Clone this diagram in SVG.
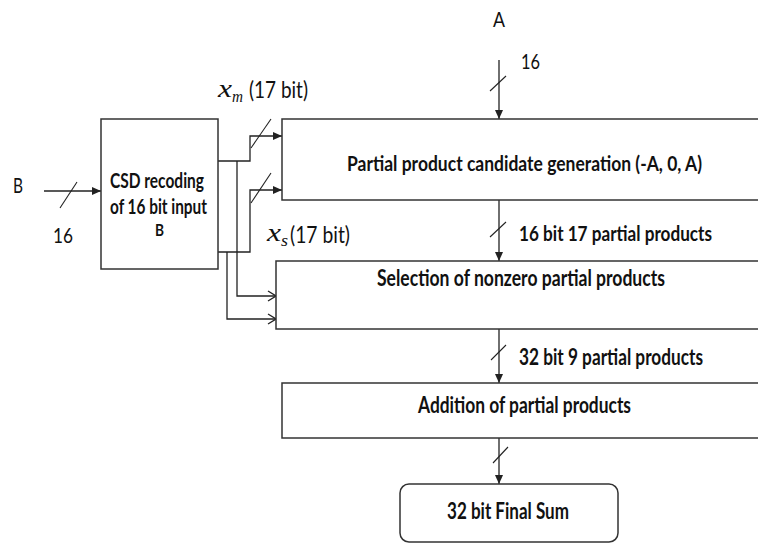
<svg xmlns="http://www.w3.org/2000/svg" width="758" height="544" viewBox="0 0 758 544">
<defs>
<style>
.box{fill:#fff;stroke:#333;stroke-width:1.5}
.ln{fill:none;stroke:#222;stroke-width:1.3}
.sl{fill:none;stroke:#222;stroke-width:1.1}
.t{font-family:Lato,"Liberation Sans",sans-serif;fill:#111;font-size:21px}
.b{font-weight:bold;font-size:22px}
.m{font-family:"Liberation Serif","DejaVu Serif",serif;font-style:italic;fill:#111}
</style>
<marker id="af" markerUnits="userSpaceOnUse" markerWidth="9" markerHeight="8" refX="9" refY="4" orient="auto">
<path d="M0,0 L9,4 L0,8 z" fill="#222"/>
</marker>
<marker id="ao" markerUnits="userSpaceOnUse" markerWidth="10" markerHeight="12" refX="9" refY="6" orient="auto">
<path d="M1,1 L9,6 L1,11" fill="none" stroke="#222" stroke-width="1.3"/>
</marker>
</defs>
<rect width="758" height="544" fill="#fff"/>

<g id="connectors">
<line class="ln" x1="44" y1="191" x2="101" y2="191" marker-end="url(#af)"/>
<line class="sl" x1="60" y1="208" x2="77" y2="182"/>
<line class="ln" x1="499" y1="60" x2="499" y2="119" marker-end="url(#af)"/>
<line class="sl" x1="490" y1="91" x2="506" y2="76"/>
<line class="ln" x1="499" y1="200" x2="499" y2="261" marker-end="url(#af)"/>
<line class="sl" x1="490" y1="237" x2="506" y2="222"/>
<line class="ln" x1="499" y1="329" x2="499" y2="383" marker-end="url(#af)"/>
<line class="sl" x1="491" y1="360" x2="506" y2="345"/>
<line class="ln" x1="499" y1="438" x2="499" y2="484" marker-end="url(#af)"/>
<line class="sl" x1="493" y1="463" x2="508" y2="447"/>
<polyline class="ln" points="218,161 250,161 250,136 282,136" marker-end="url(#af)"/>
<line class="sl" x1="251" y1="148" x2="271" y2="119"/>
<polyline class="ln" points="218,252 250,252 250,190 282,190" marker-end="url(#af)"/>
<line class="sl" x1="251" y1="203" x2="271" y2="173"/>
<polyline class="ln" points="237,161 237,296 276,296" marker-end="url(#ao)"/>
<polyline class="ln" points="227,252 227,319 276,319" marker-end="url(#ao)"/>
</g>

<g id="csd">
<rect class="box" x="101" y="119" width="117" height="150"/>
<text class="t b" x="110" y="188" style="font-size:21px" textLength="94" lengthAdjust="spacingAndGlyphs">CSD recoding</text>
<text class="t b" x="110" y="214" style="font-size:21px" textLength="97" lengthAdjust="spacingAndGlyphs">of 16 bit input</text>
<text class="t b" x="155" y="236" style="font-size:17px" textLength="9" lengthAdjust="spacingAndGlyphs">B</text>
</g>

<g id="candidate">
<rect class="box" x="282" y="119" width="492" height="81"/>
<text class="t b" x="347" y="171" style="font-size:20px" textLength="355" lengthAdjust="spacingAndGlyphs">Partial product candidate generation (-A, 0, A)</text>
</g>

<g id="selection">
<rect class="box" x="276" y="261" width="498" height="68"/>
<text class="t b" x="377" y="286" textLength="288" lengthAdjust="spacingAndGlyphs">Selection of nonzero partial products</text>
</g>

<g id="addition">
<rect class="box" x="282" y="383" width="492" height="55"/>
<text class="t b" x="418" y="413" textLength="213" lengthAdjust="spacingAndGlyphs">Addition of partial products</text>
</g>

<g id="finalsum">
<rect class="box" x="400" y="484" width="218" height="58" rx="9"/>
<text class="t b" x="447" y="519" style="font-size:23px" textLength="122" lengthAdjust="spacingAndGlyphs">32 bit Final Sum</text>
</g>

<g id="labels">
<text class="t" x="13" y="193" textLength="10" lengthAdjust="spacingAndGlyphs">B</text>
<text class="t" x="53" y="243" style="font-size:22px" textLength="20" lengthAdjust="spacingAndGlyphs">16</text>
<text class="t" x="493" y="27" textLength="12" lengthAdjust="spacingAndGlyphs">A</text>
<text class="t" x="521" y="69" style="font-size:22px" textLength="19" lengthAdjust="spacingAndGlyphs">16</text>
<text class="t b" x="519" y="241" style="font-size:21px" textLength="193" lengthAdjust="spacingAndGlyphs">16 bit 17 partial products</text>
<text class="t b" x="519" y="365" textLength="184" lengthAdjust="spacingAndGlyphs">32 bit 9 partial products</text>
<text class="m" x="218" y="97" font-size="26" textLength="14" lengthAdjust="spacingAndGlyphs">x</text>
<text class="m" x="232" y="102" font-size="17" textLength="11" lengthAdjust="spacingAndGlyphs">m</text>
<text class="t" x="249" y="98" style="font-size:23px" textLength="59" lengthAdjust="spacingAndGlyphs">(17 bit)</text>
<text class="m" x="267" y="241" font-size="26" textLength="14" lengthAdjust="spacingAndGlyphs">x</text>
<text class="m" x="281" y="246" font-size="17" textLength="7" lengthAdjust="spacingAndGlyphs">s</text>
<text class="t" x="290" y="243" style="font-size:23px" textLength="60" lengthAdjust="spacingAndGlyphs">(17 bit)</text>
</g>
</svg>
